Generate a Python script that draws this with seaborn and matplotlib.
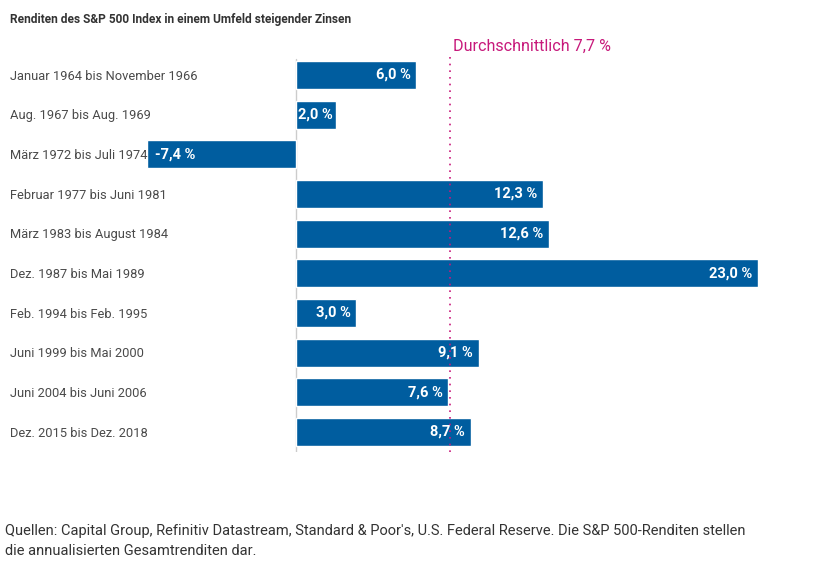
import matplotlib
matplotlib.use("Agg")
import matplotlib.pyplot as plt
import seaborn as sns
import pandas as pd

title = "Renditen des S&P 500 Index in einem Umfeld steigender Zinsen"
categories = [
    "Januar 1964 bis November 1966",
    "Aug. 1967 bis Aug. 1969",
    "März 1972 bis Juli 1974",
    "Februar 1977 bis Juni 1981",
    "März 1983 bis August 1984",
    "Dez. 1987 bis Mai 1989",
    "Feb. 1994 bis Feb. 1995",
    "Juni 1999 bis Mai 2000",
    "Juni 2004 bis Juni 2006",
    "Dez. 2015 bis Dez. 2018",
]
values = [6.0, 2.0, -7.4, 12.3, 12.6, 23.0, 3.0, 9.1, 7.6, 8.7]
average = 7.7
average_label = "Durchschnittlich 7,7 %"
source = ("Quellen: Capital Group, Refinitiv Datastream, Standard & Poor's, U.S. Federal Reserve. Die S&P 500-Renditen stellen\n"
          "die annualisierten Gesamtrenditen dar.")

sns.set_theme(style="white")
plt.rcParams["font.family"] = ["Roboto", "DejaVu Sans"]

W, H = 817, 583
fig = plt.figure(figsize=(W / 100, H / 100), dpi=100)
ax = fig.add_axes([147 / W, 1 - 452 / H, 611 / W, 397 / H])

df = pd.DataFrame({"cat": categories, "val": values})
sns.barplot(data=df, x="val", y="cat", orient="h", color="#005d9f", saturation=1,
            width=0.71, ax=ax, order=categories)

ax.set_xlim(-7.4, 23.0)
ax.set_ylim(len(categories) - 0.496, -0.504)
ax.axis("off")

ax.axvline(0, ymax=0.99, color="#cccccc", lw=1, zorder=0)
ax.axvline(average, color="#c7197b", lw=1.2, ls=(0, (1, 3)), zorder=3)

for i, v in enumerate(values):
    txt = f"{v:.1f}".replace(".", ",") + " %"
    if v >= 0 and v < 2.5:
        ax.text(v / 2, i, txt, ha="center", va="center", color="white",
                fontweight="bold", fontsize=10.5)
    elif v >= 0:
        ax.annotate(txt, (v, i), xytext=(-4, 0), textcoords="offset points",
                    ha="right", va="center", color="white", fontweight="bold", fontsize=10.5)
    else:
        ax.annotate(txt, (v, i), xytext=(6, 0), textcoords="offset points",
                    ha="left", va="center", color="white", fontweight="bold", fontsize=10.5)
    ax.text(10 / W, 1 - (76 + i * 39.67) / H, categories[i], transform=fig.transFigure,
            ha="left", va="center", color="#4a4a4a", fontsize=9.3)

ax.annotate(average_label, (average, 1), xycoords=("data", "axes fraction"),
            xytext=(1.5, 6.5), textcoords="offset points", ha="left", va="center",
            color="#c7197b", fontsize=11.6)

fig.text(10 / W, 1 - 20 / H, title, ha="left", va="center", fontweight="bold",
         color="#333333", fontsize=8.6)
fig.text(5 / W, 1 - 541 / H, source, ha="left", va="center", color="#333333",
         fontsize=10.5, linespacing=1.55)

fig.savefig("out.png", dpi=100)
